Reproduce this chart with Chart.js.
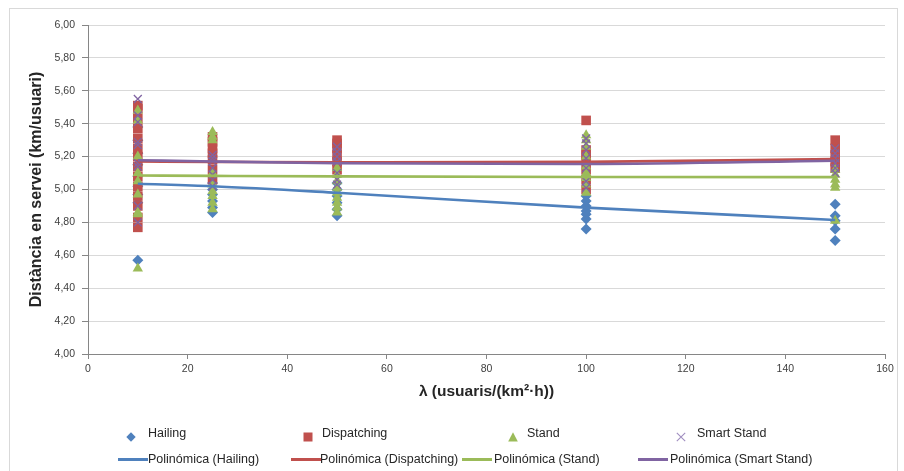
<!DOCTYPE html>
<html>
<head>
<meta charset="utf-8">
<script src="https://cdn.jsdelivr.net/npm/chart.js@4.4.1/dist/chart.umd.min.js"></script>
<style>
  html, body { margin: 0; padding: 0; background: #fff; }
  #wrap { position: relative; width: 904px; height: 471px; overflow: hidden; background: #fff; }
  #frame { position: absolute; left: 9px; top: 8px; width: 889px; height: 480px; border: 1px solid #d9d9d9; box-sizing: border-box; }
  canvas { position: absolute; left: 0; top: 0; }
  .lg { position: absolute; font-family: "Liberation Sans", Arial, sans-serif; font-size: 12.5px; color: #262626; line-height: 14px; white-space: nowrap; }
  .mk { position: absolute; }
</style>
</head>
<body>
<div id="wrap">
  <div id="frame"></div>
  <canvas id="c" width="904" height="471"></canvas>
  <div id="legend"></div>
</div>
<script>
// ---- data ----
const xValues = [10, 25, 50, 100, 150];

const hailingValues = [
  [4.57, 4.92, 4.97, 5.02, 5.08, 5.15, 5.22, 5.30, 5.38],
  [4.86, 4.89, 4.93, 4.97, 5.00, 5.04, 5.08],
  [4.84, 4.88, 4.92, 4.96, 5.00, 5.04],
  [4.76, 4.82, 4.85, 4.87, 4.90, 4.93, 4.96],
  [4.69, 4.76, 4.81, 4.84, 4.91]
];
const dispatchingValues = [
  [4.77, 4.83, 4.90, 4.96, 5.02, 5.08, 5.14, 5.20, 5.25, 5.31, 5.37, 5.43, 5.49, 5.51],
  [5.06, 5.12, 5.18, 5.22, 5.25, 5.29, 5.32],
  [5.12, 5.17, 5.21, 5.25, 5.28, 5.30],
  [5.00, 5.06, 5.12, 5.18, 5.21, 5.24, 5.42],
  [5.13, 5.17, 5.21, 5.25, 5.30]
];
const standValues = [
  [4.52, 4.85, 4.86, 4.97, 5.05, 5.10, 5.20, 5.42, 5.48],
  [4.88, 4.92, 4.96, 4.99, 5.03, 5.10, 5.30, 5.32, 5.35],
  [4.86, 4.89, 4.92, 4.95, 4.98, 5.01, 5.05, 5.09, 5.13],
  [4.98, 5.03, 5.07, 5.10, 5.14, 5.20, 5.26, 5.30, 5.33],
  [4.81, 5.01, 5.03, 5.06, 5.09, 5.12]
];
const smartStandValues = [
  [4.80, 4.90, 5.14, 5.16, 5.27, 5.29, 5.41, 5.45, 5.55],
  [5.02, 5.06, 5.09, 5.13, 5.17, 5.19, 5.21],
  [5.03, 5.06, 5.10, 5.17, 5.20, 5.23, 5.26],
  [5.01, 5.05, 5.13, 5.19, 5.24, 5.28, 5.31],
  [5.10, 5.13, 5.16, 5.19, 5.22, 5.25]
];

// polynomial trend lines at the same x positions
const trendX = [10, 25, 50, 100, 150];
const trendHailing = [5.035, 5.02, 4.98, 4.89, 4.815];
const trendDispatching = [5.17, 5.168, 5.165, 5.168, 5.185];
const trendStand = [5.085, 5.083, 5.08, 5.076, 5.075];
const trendSmartStand = [5.178, 5.17, 5.16, 5.155, 5.175];

const seriesNames = ['Hailing', 'Dispatching', 'Stand', 'Smart Stand'];
const trendNames = ['Polinómica (Hailing)', 'Polinómica (Dispatching)', 'Polinómica (Stand)', 'Polinómica (Smart Stand)'];
const xTicks = [0, 20, 40, 60, 80, 100, 120, 140, 160];
const yTicks = [4.0, 4.2, 4.4, 4.6, 4.8, 5.0, 5.2, 5.4, 5.6, 5.8, 6.0];

// ---- build ----
const colors = ['#4F81BD', '#C0504D', '#9BBB59', '#8064A2'];
const toPoints = (vals) => xValues.flatMap((x, i) => vals[i].map(y => ({x, y})));
const toLine = (ys) => trendX.map((x, i) => ({x, y: ys[i]}));

const scatterSets = [
  {label: seriesNames[0], data: toPoints(hailingValues), pointStyle: 'rectRot', pointRadius: 5.5, backgroundColor: colors[0], borderColor: colors[0], borderWidth: 0, order: 7},
  {label: seriesNames[1], data: toPoints(dispatchingValues), pointStyle: 'rect', pointRadius: 6.8, backgroundColor: colors[1], borderColor: colors[1], borderWidth: 0, order: 6},
  {label: seriesNames[2], data: toPoints(standValues), pointStyle: 'triangle', pointRadius: 6, backgroundColor: colors[2], borderColor: colors[2], borderWidth: 0, order: 5},
  {label: seriesNames[3], data: toPoints(smartStandValues), pointStyle: 'crossRot', pointRadius: 5.6, backgroundColor: colors[3], borderColor: colors[3], borderWidth: 1.3, order: 4}
];
const trendSets = [trendHailing, trendDispatching, trendStand, trendSmartStand].map((ys, i) => ({
  type: 'line', label: trendNames[i], data: toLine(ys), borderColor: colors[i], backgroundColor: colors[i],
  borderWidth: 2.6, pointRadius: 0, tension: 0.4, cubicInterpolationMode: 'monotone', order: 3 - i
}));

const FONT = '"Liberation Sans", Arial, sans-serif';

new Chart(document.getElementById('c'), {
  type: 'scatter',
  data: { datasets: [...scatterSets, ...trendSets] },
  options: {
    responsive: false,
    animation: false,
    events: [],
    layout: { padding: { left: 10, top: 25, right: 19, bottom: 67 } },
    plugins: { legend: { display: false }, tooltip: { enabled: false } },
    scales: {
      x: {
        type: 'linear', min: 0, max: 160,
        afterBuildTicks: (s) => { s.ticks = xTicks.map(v => ({value: v})); },
        afterFit: (s) => { s.height = 50; },
        grid: { drawOnChartArea: false, drawTicks: true, tickLength: 5, tickColor: '#868686' },
        border: { display: true, color: '#868686', width: 1 },
        ticks: { padding: 4, color: '#404040', font: { family: FONT, size: 10.5 }, maxRotation: 0 },
        title: { display: true, text: 'λ (usuaris/(km²·h))', color: '#262626', font: { family: FONT, size: 15.5, weight: 'bold' }, padding: { top: 0, bottom: 3 } }
      },
      y: {
        type: 'linear', min: 4, max: 6,
        afterBuildTicks: (s) => { s.ticks = yTicks.map(v => ({value: v})); },
        afterFit: (s) => { s.width = 78; },
        grid: { color: '#d9d9d9', lineWidth: 1, drawTicks: true, tickLength: 6, tickColor: '#868686' },
        border: { display: true, color: '#868686', width: 1 },
        ticks: { padding: 7, color: '#404040', font: { family: FONT, size: 10.5 }, callback: (v) => Number(v).toFixed(2).replace('.', ',') },
        title: { display: true, text: 'Distància en servei (km/usuari)', color: '#262626', font: { family: FONT, size: 16, weight: 'bold' }, padding: { top: 17, bottom: 0 } }
      }
    }
  }
});

// ---- legend (HTML) ----
const lg = document.getElementById('legend');
function svgMarker(kind, color) {
  let body = '';
  if (kind === 0) body = `<polygon points="5,0.3 9.7,5 5,9.7 0.3,5" fill="${color}"/>`;
  if (kind === 1) body = `<rect x="0.5" y="0.5" width="9" height="9" fill="${color}"/>`;
  if (kind === 2) body = `<polygon points="5,0.3 9.8,9.5 0.2,9.5" fill="${color}"/>`;
  if (kind === 3) body = `<path d="M0.8,0.8 L9.2,9.2 M9.2,0.8 L0.8,9.2" stroke="#a08ec0" stroke-width="1.1"/>`;
  return `<svg width="10" height="10" viewBox="0 0 10 10">${body}</svg>`;
}
const row1Marker = [131, 308, 513, 681];
const row1Text = [148, 322, 527, 697];
const row2Line = [118, 291, 462, 638];
const row2Text = [148, 320, 494, 670];
seriesNames.forEach((n, i) => {
  const m = document.createElement('div');
  m.className = 'mk';
  m.style.left = (row1Marker[i] - 5) + 'px';
  m.style.top = (433 - 5) + 'px';
  m.innerHTML = svgMarker(i, colors[i]);
  lg.appendChild(m);
  const t = document.createElement('div');
  t.className = 'lg';
  t.style.left = row1Text[i] + 'px';
  t.style.top = (433 - 7) + 'px';
  t.textContent = n;
  lg.appendChild(t);
});
trendNames.forEach((n, i) => {
  const l = document.createElement('div');
  l.className = 'mk';
  l.style.left = row2Line[i] + 'px';
  l.style.top = (459 - 1.5) + 'px';
  l.style.width = '30px';
  l.style.height = '3px';
  l.style.background = colors[i];
  lg.appendChild(l);
  const t = document.createElement('div');
  t.className = 'lg';
  t.style.left = row2Text[i] + 'px';
  t.style.top = (459 - 7) + 'px';
  t.textContent = n;
  lg.appendChild(t);
});
</script>
</body>
</html>
